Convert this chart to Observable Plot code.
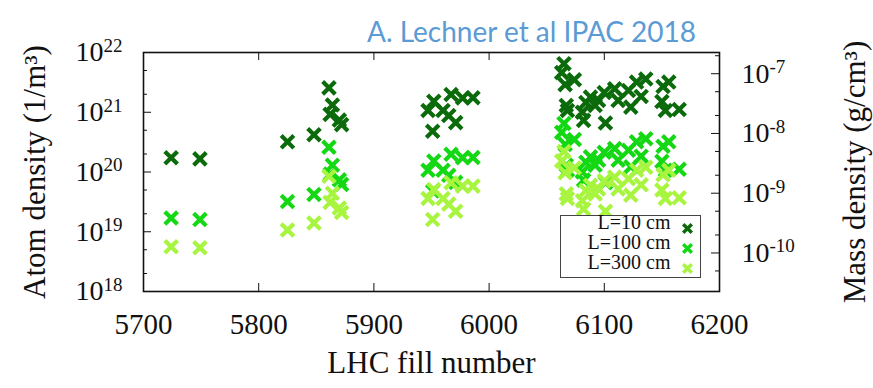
<!DOCTYPE html>
<html><head><meta charset="utf-8">
<script src="https://cdn.jsdelivr.net/npm/d3@7"></script>
<script src="https://cdn.jsdelivr.net/npm/@observablehq/plot@0.6"></script>
<style>
body{margin:0;background:#fff}
#chart{width:873px;height:388px;overflow:hidden}
</style></head><body><div id="chart"></div>
<script>
// LHC fill numbers
const fills = [5724,5749,5825,5848,5861,5862,5864,5870,5872,
  5947,5951,5952,5960,5965,5967,5971,5977,5986,
  6063,6065,6066,6067,6068,6074,6081,6082,6084,6088,6092,6095,6100,6101,
  6109,6112,6121,6123,6128,6132,6136,6150,6151,6153,6156,6165];
// Atom density (1/m^3) for each effective length
const atomL10 = [1.73e20,1.66e20,3.2e20,4.2e20,2.56e21,9.2e20,1.32e21,7.4e20,6.2e20,
  1.07e21,4.8e20,1.53e21,1.07e21,8.8e20,1.98e21,6.7e20,1.73e21,1.75e21,
  4.6e21,6.5e21,2.9e21,1.3e21,1.07e21,3.5e21,1.0e21,7.3e20,1.46e21,1.79e21,1.3e21,1.57e21,2.14e21,6.6e20,
  2.47e21,1.57e21,2.31e21,1.22e21,3.2e21,1.84e21,3.6e21,1.51e21,2.7e21,1.07e21,3.2e21,1.11e21];
const atomL100 = [1.7e19,1.6e19,3.2e19,4.2e19,2.6e20,9.2e19,1.3e20,7.4e19,6.2e19,
  1.07e20,4.8e19,1.53e20,1.07e20,8.8e19,1.98e20,6.7e19,1.73e20,1.75e20,
  4.6e20,6.5e20,2.9e20,1.3e20,1.07e20,3.5e20,1.0e20,7.3e19,1.46e20,1.79e20,1.3e20,1.57e20,2.14e20,6.6e19,
  2.47e20,1.57e20,2.31e20,1.22e20,3.2e20,1.84e20,3.6e20,1.51e20,2.7e20,1.07e20,3.2e20,1.11e20];
const atomL300 = [5.6e18,5.4e18,1.07e19,1.4e19,8.5e19,3.1e19,4.4e19,2.5e19,2.1e19,
  3.6e19,1.6e19,5.1e19,3.6e19,2.9e19,6.6e19,2.2e19,5.8e19,5.8e19,
  1.53e20,2.2e20,9.7e19,4.3e19,3.6e19,1.17e20,3.3e19,2.4e19,4.9e19,6.0e19,4.3e19,5.2e19,7.1e19,2.2e19,
  8.2e19,5.2e19,7.7e19,4.1e19,1.07e20,6.1e19,1.2e20,5.0e19,9.0e19,3.6e19,1.07e20,3.7e19];

const seriesNames = ["L=10 cm","L=100 cm","L=300 cm"];
const seriesColors = ["#0b6b0b","#14d814","#a8f540"];
const xTicks = [5700,5800,5900,6000,6100,6200];
const atomTicks = [1e18,1e19,1e20,1e21,1e22];
const atomMinor = [2e18,5e18,2e19,5e19,2e20,5e20,2e21,5e21];
const massTicks = [1e-7,1e-8,1e-9,1e-10];
const massMinor = [5e-11,2e-10,5e-10,2e-9,5e-9,2e-8,5e-8,2e-7];
const massPerAtomFactor = Math.pow(10,-28.645); // g/cm^3 per (1/m^3)

const rows = [];
[atomL10, atomL100, atomL300].forEach((arr, s) => {
  arr.forEach((v, i) => rows.push({fill: fills[i], density: v, series: seriesNames[s]}));
});

const W = 873, H = 388;
const mL = 143, mR = 154, mT = 52, mB = 97;
const fw = W - mL - mR, fh = H - mT - mB;
const serif = "Liberation Serif";

const marks = [
  // ticks (inward, gnuplot style)
  Plot.tickY(atomTicks, {y: d => d, insetRight: fw - 8, stroke: "#111", strokeWidth: 1}),
  Plot.tickY(atomMinor, {y: d => d, insetRight: fw - 4, stroke: "#111", strokeWidth: 1}),
  Plot.tickY(massTicks, {y: d => d / massPerAtomFactor, insetLeft: fw - 8, stroke: "#111", strokeWidth: 1}),
  Plot.tickY(massMinor, {y: d => d / massPerAtomFactor, insetLeft: fw - 4, stroke: "#111", strokeWidth: 1}),
  Plot.tickX(xTicks, {x: d => d, insetTop: fh - 8, stroke: "#111", strokeWidth: 1}),
  Plot.tickX(xTicks, {x: d => d, insetBottom: fh - 8, stroke: "#111", strokeWidth: 1}),
  // tick labels
  Plot.axisX(xTicks, {anchor: "bottom", tickSize: 0, tickPadding: 22, label: null, tickFormat: d => String(d), fontSize: 29, fontFamily: serif, fill: "#111"}),
  Plot.axisY(atomTicks, {anchor: "left", tickSize: 0, tickPadding: 21, label: null,
    tickFormat: d => "10^" + Math.round(Math.log10(d)), fontSize: 28, fontFamily: serif, fill: "#111"}),
  Plot.text(massTicks, {y: d => d / massPerAtomFactor, frameAnchor: "right", dx: 22, textAnchor: "start",
    text: d => "10^" + Math.round(Math.log10(d)), fontSize: 28, fontFamily: serif, fill: "#111"}),
  // data
  Plot.dot(rows, {x: "fill", y: "density", stroke: "series", symbol: "times", r: 5.8, strokeWidth: 4.2}),
  Plot.frame({stroke: "#111", strokeWidth: 1.6}),
  // axis titles
  Plot.text(["Atom density (1/m³)"], {frameAnchor: "left", textAnchor: "middle", rotate: -90, dx: -108, fontSize: 31, fontFamily: serif, fill: "#111"}),
  Plot.text(["Mass density (g/cm³)"], {frameAnchor: "right", textAnchor: "middle", rotate: -90, dx: 136, fontSize: 31, fontFamily: serif, fill: "#111"}),
  Plot.text(["LHC fill number"], {frameAnchor: "bottom", dy: 81, fontSize: 31, fontFamily: serif, fill: "#111"}),
  Plot.text(["A. Lechner et al IPAC 2018"], {frameAnchor: "top", dx: 100, dy: -30, fontSize: 28, fontFamily: "Lato", fill: "#5b9bd5"}),
  // legend
  Plot.frame({insetLeft: 560 - mL, insetRight: mL + fw - 700, insetTop: 215 - mT, insetBottom: mT + fh - 277, stroke: "#444", strokeWidth: 1, fill: "white"}),
  ...seriesNames.map((s, i) => Plot.text([s], {frameAnchor: "bottom-right", dx: -49, dy: -63 + 20 * i, textAnchor: "end", fontSize: 20, fontFamily: serif, fill: "#111"})),
  ...seriesNames.map((s, i) => Plot.dot([s], {frameAnchor: "bottom-right", dx: -32, dy: -63 + 20 * i, stroke: d => d, symbol: "times", r: 4, strokeWidth: 3.4}))
];

const chart = Plot.plot({
  width: W, height: H,
  marginLeft: mL, marginRight: mR, marginTop: mT, marginBottom: mB,
  style: {fontFamily: serif, fontSize: "28px", background: "white", overflow: "visible"},
  x: {domain: [5700, 6200]},
  y: {type: "log", domain: [1e18, 1e22]},
  color: {domain: seriesNames, range: seriesColors},
  marks
});

// superscript formatting of the power-of-ten tick labels
const ns = "http://www.w3.org/2000/svg";
chart.querySelectorAll("text").forEach(t => {
  const m = t.textContent.trim().match(/^10\^(-?\d+)$/);
  if (m) {
    t.textContent = "10";
    const ts = document.createElementNS(ns, "tspan");
    ts.setAttribute("dy", "-0.5em");
    ts.setAttribute("font-size", "19px");
    ts.textContent = m[1];
    t.appendChild(ts);
  }
});
document.getElementById("chart").appendChild(chart);
</script></body></html>
